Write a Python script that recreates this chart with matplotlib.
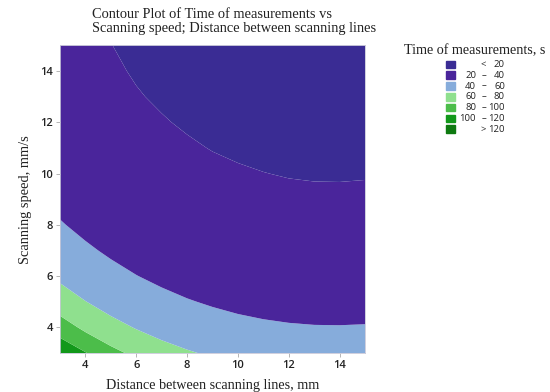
import numpy as np
import matplotlib
matplotlib.use("Agg")
import matplotlib.pyplot as plt
from matplotlib.patches import Rectangle

distance = [3, 4, 5, 6, 7, 8, 9, 10, 11, 12, 13, 14, 15]   # x, mm
speed = [3, 4, 5, 6, 7, 8, 9, 10, 11, 12, 13, 14, 15]      # y, mm/s
time_s = [  # rows: speed 3 -> 15
    [118.0, 101.1, 86.2, 75.5, 67.7, 61.9, 57.5, 54.4, 52.1, 50.6, 49.8, 49.7, 50.2],
    [90.0, 76.2, 66.3, 59.0, 53.5, 49.4, 46.3, 44.0, 42.4, 41.3, 40.7, 40.6, 40.9],
    [70.0, 60.4, 53.3, 48.0, 44.0, 40.9, 38.6, 36.8, 35.5, 34.7, 34.3, 34.2, 34.4],
    [56.8, 49.7, 44.4, 40.3, 37.2, 34.8, 33.0, 31.6, 30.6, 29.9, 29.5, 29.5, 29.7],
    [47.7, 42.2, 38.0, 34.8, 32.3, 30.3, 28.8, 27.7, 26.9, 26.3, 26.0, 26.0, 26.1],
    [41.1, 36.7, 33.3, 30.6, 28.6, 26.9, 25.7, 24.7, 24.0, 23.6, 23.3, 23.3, 23.4],
    [36.3, 32.6, 29.7, 27.5, 25.7, 24.3, 23.2, 22.4, 21.8, 21.4, 21.2, 21.1, 21.3],
    [32.6, 29.4, 27.0, 25.0, 23.5, 22.3, 21.3, 20.6, 20.1, 19.7, 19.5, 19.5, 19.6],
    [29.8, 27.0, 24.8, 23.1, 21.7, 20.7, 19.8, 19.2, 18.7, 18.4, 18.2, 18.2, 18.3],
    [27.6, 25.1, 23.2, 21.6, 20.4, 19.4, 18.6, 18.0, 17.6, 17.3, 17.1, 17.1, 17.2],
    [25.9, 23.7, 21.9, 20.4, 19.3, 18.4, 17.7, 17.1, 16.7, 16.5, 16.3, 16.3, 16.4],
    [24.6, 22.5, 20.9, 19.5, 18.5, 17.6, 16.9, 16.4, 16.1, 15.8, 15.7, 15.6, 15.7],
    [23.6, 21.7, 20.1, 18.8, 17.8, 17.0, 16.4, 15.9, 15.5, 15.3, 15.2, 15.1, 15.2],
]
bounds = [20, 40, 60, 80, 100, 120]
colors = ["#3A2C94", "#4A259B", "#86ACDB", "#8FE08E", "#4CBD4A", "#12981A", "#0E7A10"]

SERIF = "Liberation Serif"
SANS = "Open Sans"
INK = "#222222"

fig = plt.figure(figsize=(5.5, 3.92), dpi=100)
fig.patch.set_facecolor("white")
ax = fig.add_axes([60 / 550, 1 - 353 / 392, 305 / 550, 307.5 / 392])

# contour on T^-0.5 (the Box-Cox scale of the fit) so the bands stay smooth between grid nodes
t = np.array(time_s)
t_levels = np.array([1e4] + bounds[::-1] + [1.0])
ax.contourf(distance, speed, t ** -0.5, levels=t_levels ** -0.5, colors=colors[::-1], antialiased=True)
ax.set_xlim(3, 15)
ax.set_ylim(3, 15)
ax.set_xticks([4, 6, 8, 10, 12, 14])
ax.set_yticks([4, 6, 8, 10, 12, 14])
ax.tick_params(length=3, width=0.6, color="#AAAAAA", labelsize=8, pad=2)
for lab in ax.get_xticklabels() + ax.get_yticklabels():
    lab.set_fontfamily(SANS)
    lab.set_fontweight("semibold")
    lab.set_color(INK)
for s in ax.spines.values():
    s.set_color("#C8C8D8")
    s.set_linewidth(0.6)

ax.set_xlabel("Distance between scanning lines, mm", family=SERIF, fontsize=10.2, labelpad=6, color=INK)
ax.set_ylabel("Scanning speed, mm/s", family=SERIF, fontsize=10.4, labelpad=6, color=INK)

fig.text(92 / 550, 1 - 8 / 392, "Contour Plot of Time of measurements vs\nScanning speed; Distance between scanning lines",
         family=SERIF, fontsize=10.4, va="top", ha="left", linespacing=1.1, color=INK)

# legend
fig.text(404 / 550, 1 - 54 / 392, "Time of measurements, s", family=SERIF, fontsize=10.2, va="baseline", color=INK)
row_y = 64.5
fs = 6.8
for i, col in enumerate(colors):
    yc = 1 - (row_y + i * 10.8) / 392
    fig.patches.append(Rectangle((446 / 550, yc - 3.6 / 392), 8.5 / 550, 7.5 / 392,
                                 transform=fig.transFigure, color=col))
    if i == 0:
        fig.text(483 / 550, yc, "<", family=SANS, fontsize=fs, ha="center", va="center", color=INK)
        fig.text(505 / 550, yc, "%d" % bounds[0], family=SANS, fontsize=fs, ha="right", va="center", color=INK)
    elif i == len(colors) - 1:
        fig.text(483 / 550, yc, ">", family=SANS, fontsize=fs, ha="center", va="center", color=INK)
        fig.text(505 / 550, yc, "%d" % bounds[-1], family=SANS, fontsize=fs, ha="right", va="center", color=INK)
    else:
        fig.text(476 / 550, yc, "%d" % bounds[i - 1], family=SANS, fontsize=fs, ha="right", va="center", color=INK)
        fig.text(484 / 550, yc, "–", family=SANS, fontsize=fs, ha="center", va="center", color=INK)
        fig.text(505 / 550, yc, "%d" % bounds[i], family=SANS, fontsize=fs, ha="right", va="center", color=INK)

fig.savefig("out.png", dpi=100, facecolor="white")
